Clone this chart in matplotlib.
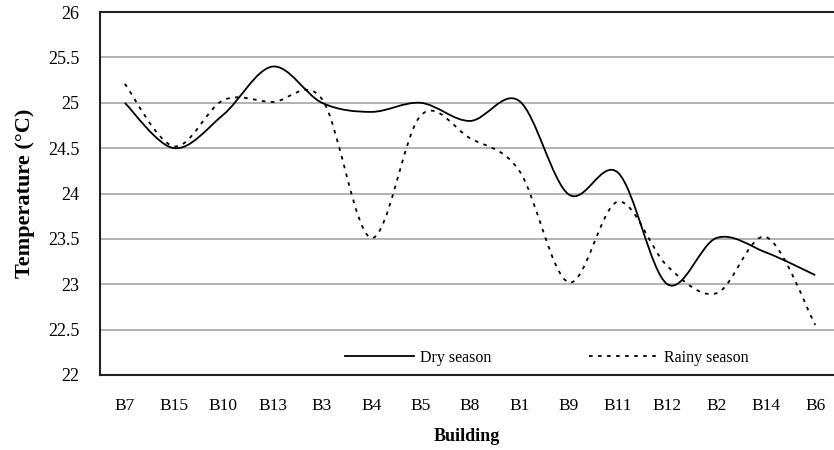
import numpy as np
import matplotlib
matplotlib.use("Agg")
from matplotlib import pyplot as plt
from matplotlib.path import Path
from matplotlib.patches import PathPatch

buildings = ["B7", "B15", "B10", "B13", "B3", "B4", "B5", "B8", "B1",
             "B9", "B11", "B12", "B2", "B14", "B6"]
dry = [25.0, 24.5, 24.87, 25.4, 25.0, 24.9, 25.0, 24.8, 25.02,
       23.99, 24.23, 23.0, 23.51, 23.35, 23.1]
rainy = [25.21, 24.52, 25.03, 25.01, 25.04, 23.51, 24.86, 24.61, 24.25,
         23.02, 23.91, 23.2, 22.9, 23.52, 22.55]
y_ticks = [22, 22.5, 23, 23.5, 24, 24.5, 25, 25.5, 26]

plt.rcParams["font.family"] = ["Liberation Serif", "DejaVu Serif"]


def smooth_path(x, y):
    # excel-like smoothed line: cubic bezier, control points from neighbours
    x = np.asarray(x, float)
    y = np.asarray(y, float)
    n = len(x)
    verts = [(x[0], y[0])]
    codes = [Path.MOVETO]
    for i in range(n - 1):
        p0 = np.array([x[max(i - 1, 0)], y[max(i - 1, 0)]])
        p1 = np.array([x[i], y[i]])
        p2 = np.array([x[i + 1], y[i + 1]])
        p3 = np.array([x[min(i + 2, n - 1)], y[min(i + 2, n - 1)]])
        c1 = p1 + (p2 - p0) / 6.0
        c2 = p2 - (p3 - p1) / 6.0
        verts += [tuple(c1), tuple(c2), tuple(p2)]
        codes += [Path.CURVE4] * 3
    return Path(verts, codes)


fig = plt.figure(figsize=(8.34, 4.5), dpi=100)
ax = fig.add_axes([0.12, 0.167, 0.88, 0.806])

xs = np.arange(len(buildings))
ax.add_patch(PathPatch(smooth_path(xs, dry), fill=False, color="black",
                       lw=1.3, zorder=3))
ax.add_patch(PathPatch(smooth_path(xs, rainy), fill=False, color="black",
                       lw=1.3, linestyle=(0, (2, 3)), zorder=3))

# legend handles
ax.plot([], [], color="black", lw=1.3, label="Dry season")
ax.plot([], [], color="black", lw=1.3, linestyle=(0, (2, 3)), label="Rainy season")

ax.set_xlim(-0.5, 14.38)
ax.set_ylim(22, 26)
ax.set_yticks(y_ticks)
ax.set_yticklabels([f"{t:g}" for t in y_ticks])
ax.set_xticks(xs)
ax.set_xticklabels(buildings)
ax.tick_params(axis="both", length=0)
ax.tick_params(axis="y", pad=15, labelsize=13)
ax.tick_params(axis="x", pad=17, labelsize=12.5)

ax.grid(axis="y", color="#a6a6a6", lw=1.2)
ax.set_axisbelow(True)
for s in ["left", "bottom", "top"]:
    ax.spines[s].set_linewidth(1.5)
    ax.spines[s].set_color("#222222")
ax.spines["right"].set_visible(False)

ax.set_ylabel("Temperature (°C)", fontsize=16, fontweight="bold", labelpad=9)
ax.set_xlabel("Building", fontsize=13, fontweight="bold", labelpad=10)

ax.legend(loc="center left", bbox_to_anchor=(0.334, 0.047), ncol=2,
          frameon=False, fontsize=11.5, handlelength=4.3, columnspacing=6.1,
          handletextpad=0.4, borderpad=0, borderaxespad=0)

fig.savefig("out.png", dpi=100)
